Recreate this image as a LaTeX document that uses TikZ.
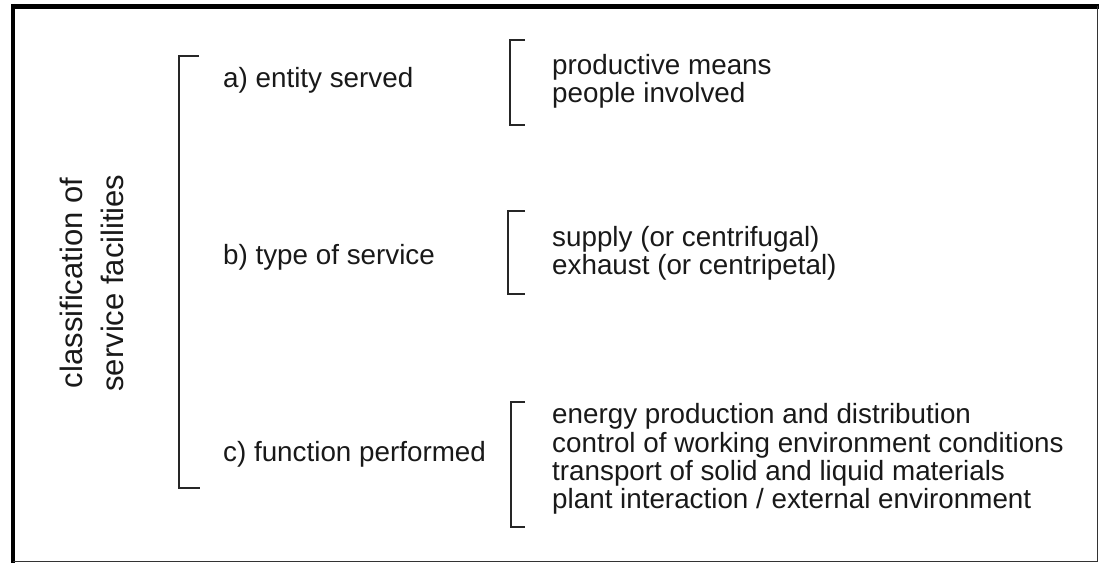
\documentclass[tikz,border=0pt]{standalone}
\usepackage{fontspec}
\setmainfont{Liberation Sans}
\tikzset{
  brack/.style={line width=2.2pt, draw=black!85},
  item/.style={anchor=base west, inner sep=0pt, text=black!90, font=\fontsize{27.8}{29}\selectfont},
  side/.style={anchor=base, inner sep=0pt, rotate=90, text=black!90, font=\fontsize{31}{37}\selectfont}
}
\begin{document}
\begin{tikzpicture}[x=1pt,y=-1pt]
        \useasboundingbox (0,0) rectangle (1099,564);

        % frame
        \draw[line width=4.5pt] (13,4) -- (13,563);
        \draw[line width=5pt] (11,6.5) -- (1099,6.5);
        \draw[line width=1.5pt, black!80] (1097.5,6) -- (1097.5,562);
        \draw[line width=1.5pt, black!80] (13,561.5) -- (1098,561.5);

        % main bracket
        \node[side] (cls1) at (82,283) {classification of};
        \node[side] (cls2) at (123,283) {service facilities};
        \draw[brack] (199,56) -- (179,56) -- (179,488) -- (200,488);

        % groups
        \node[item] (ga) at (223,88) {a) entity served};
        \node[item] (gb) at (223,264) {b) type of service};
        \node[item] (gc) at (223,461) {c) function performed};

        % a) entity served
        \draw[brack] (525,40) -- (510,40) -- (510,125) -- (525,125);
        \node[item] (a1) at (552,75) {productive means};
        \node[item] (a2) at (552,103) {people involved};

        % b) type of service
        \draw[brack] (525,211) -- (508,211) -- (508,294) -- (525,294);
        \node[item] (b1) at (552,246) {supply (or centrifugal)};
        \node[item] (b2) at (552,274) {exhaust (or centripetal)};

        % c) function performed
        \draw[brack] (525,402) -- (511,402) -- (511,527) -- (525,527);
        \node[item] (c1) at (552,423) {energy production and distribution};
        \node[item] (c2) at (552,452) {control of working environment conditions};
        \node[item] (c3) at (552,480) {transport of solid and liquid materials};
        \node[item] (c4) at (552,508) {plant interaction / external environment};

\end{tikzpicture}
\end{document}
